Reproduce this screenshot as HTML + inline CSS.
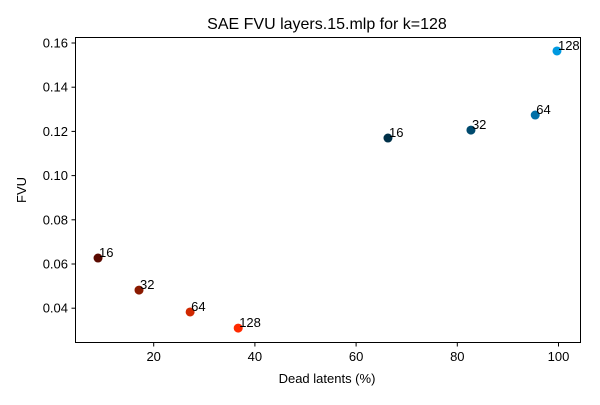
<!DOCTYPE html>
<html><head><meta charset="utf-8"><style>
body{margin:0;background:#fff;}
svg text{font-family:"Liberation Sans","DejaVu Sans",sans-serif;}
</style></head><body>
<svg id="chart" width="600" height="400" xmlns="http://www.w3.org/2000/svg">
<rect width="600" height="400" fill="#fff"/>
<text x="327" y="29" font-size="16" text-anchor="middle">SAE FVU layers.15.mlp for k=128</text>
<text x="327" y="383" font-size="13" text-anchor="middle">Dead latents (%)</text>
<text x="26" y="190" font-size="13" text-anchor="middle" transform="rotate(-90 26 190)">FVU</text>
<g id="ticks"></g>
<g id="points"></g>
<rect x="75.5" y="37.5" width="505" height="305" fill="none" stroke="#000" stroke-width="1"/>
</svg>
<script>
const xTicks=[20,40,60,80,100];
const yTicks=[0.04,0.06,0.08,0.10,0.12,0.14,0.16];
const yTickLabels=["0.04","0.06","0.08","0.10","0.12","0.14","0.16"];
const redDead=[9.0,17.1,27.2,36.7];
const redFvu=[0.0627,0.0482,0.0383,0.031];
const redLabels=["16","32","64","128"];
const redColors=["#5a0a00","#8a1a00","#d02800","#ff2a00"];
const blueDead=[66.3,82.7,95.4,99.7];
const blueFvu=[0.117,0.1206,0.1274,0.1564];
const blueLabels=["16","32","64","128"];
const blueColors=["#003048","#004a6e","#0070a8","#0099e0"];

const NS="http://www.w3.org/2000/svg";
function xs(v){return 52.5+v*5.06;}
function ys(v){return 43+(0.16-v)*2210;}
const tg=document.getElementById('ticks');
function mk(tag,attrs,parent){const e=document.createElementNS(NS,tag);for(const k in attrs)e.setAttribute(k,attrs[k]);parent.appendChild(e);return e;}
xTicks.forEach(t=>{
  const x=xs(t);
  const l=mk('line',{x1:x,x2:x,y1:342.5,y2:346.5,stroke:'#000'},tg);
  
  
  const tx=mk('text',{x:x,y:361,'font-size':13,'text-anchor':'middle'},tg);
  tx.textContent=t;
  
  
});
yTicks.forEach((t,i)=>{
  const y=ys(t);
  const l=mk('line',{x1:71.5,x2:75.5,y1:y,y2:y,stroke:'#000'},tg);
  
  
  const tx=mk('text',{x:68,y:y+4.5,'font-size':13,'text-anchor':'end'},tg);
  tx.textContent=yTickLabels[i];
  
  
});
const pg=document.getElementById('points');
function series(dx,dy,labs,cols,name){
  dx.forEach((d,i)=>{
    const cx=xs(d),cy=ys(dy[i]);
    const c=mk('circle',{cx:cx,cy:cy,r:4.5,fill:cols[i]},pg);
    
    
    const t=mk('text',{x:cx+1,y:cy-1,'font-size':13},pg);
    t.textContent=labs[i];
    
    
  });
}
series(redDead,redFvu,redLabels,redColors,'red-series');
series(blueDead,blueFvu,blueLabels,blueColors,'blue-series');
</script>
</body></html>
